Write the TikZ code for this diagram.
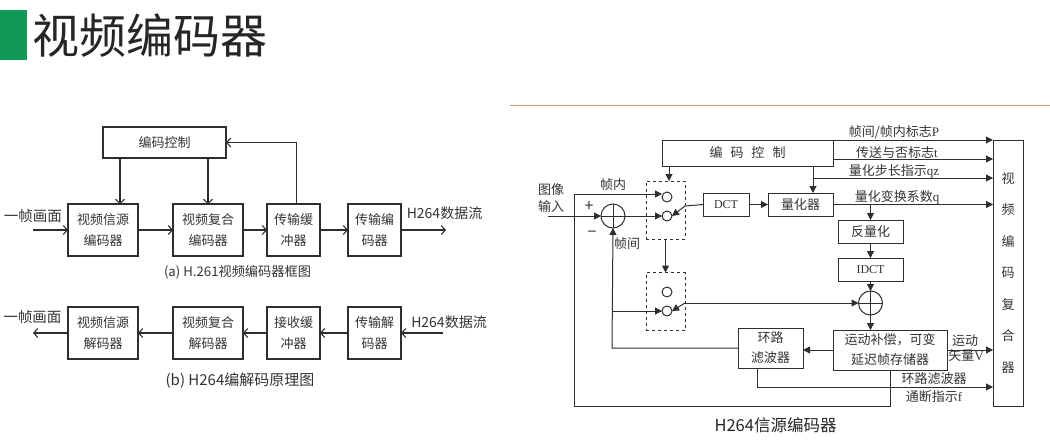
\documentclass[tikz,border=0pt]{standalone}
\usepackage{fontspec}
\setmainfont{Noto Sans CJK SC}
\newfontfamily\latf{Liberation Serif}
\usetikzlibrary{arrows.meta,positioning}
\definecolor{titlegreen}{HTML}{119A55}
\definecolor{inkline}{HTML}{2E2E2E}
\definecolor{rulebrown}{HTML}{CF9A70}
\newcommand{\fsz}[2]{\fontsize{#1}{#2}\selectfont}

\begin{document}
\begin{tikzpicture}[x=1pt,y=-1pt,
  node distance=35pt and 35pt,
  box/.style={draw=inkline,line width=1.1pt,inner sep=0pt,outer sep=0pt,align=center,text=black!80,font=\fsz{13}{21}},
  wbox/.style={box,minimum width=70pt,minimum height=52pt},
  nbox/.style={box,minimum width=53pt,minimum height=52pt},
  rbox/.style={box,line width=1pt},
  swbox/.style={draw=inkline,line width=1pt,dashed,minimum width=39pt,minimum height=58pt,inner sep=0pt,outer sep=0pt},
  port/.style={draw=inkline,line width=1pt,fill=white,circle,minimum size=10pt,inner sep=0pt,outer sep=0pt},
  sumnode/.style={draw=inkline,line width=1pt,circle,minimum size=24pt,inner sep=0pt,outer sep=0pt},
  lbl/.style={inner sep=0pt,text=black!80,font=\fsz{13}{17}},
  arr/.style={-{Straight Barb[length=4pt,width=9pt]},inkline,line width=1.1pt},
  tarr/.style={-{Stealth[length=7pt,width=7pt,inset=0pt]},inkline,line width=1pt},
  wire/.style={inkline,line width=1pt}]
\useasboundingbox (0,0) rectangle (1050,445);

% title
\fill[titlegreen] (0,10) rectangle (27,60);
\node[inner sep=0pt,text=black!85,font=\fsz{47}{47}] (title) at (150,36) {视频编码器};
\coordinate (ruleL) at (510,105);
\coordinate (ruleR) at (1050,105);
\draw[rulebrown,line width=1pt] (ruleL) -- (ruleR);

% encoder row
\node[box,minimum width=123pt,minimum height=31pt] (ctrlA) at (164.5,142.5) {编码控制};
\node[wbox] (enA) at (103,230) {视频信源\\编码器};
\node[wbox,right=of enA] (muxA) {视频复合\\编码器};
\node[nbox,right=24pt of muxA] (bufA) {传输缓\\冲器};
\node[nbox,right=28pt of bufA] (txA) {传输编\\码器};
\node[lbl,font=\fsz{14.5}{17}] (inA) at (33,216) {一帧画面};
\node[lbl,font=\fsz{14}{17}] (outA) at (444.5,213) {H264数据流};
\coordinate (inAs) at (33,230);
\coordinate (outAe) at (446,230);
\node[lbl,font=\fsz{13.2}{15}] (capA) at (237.5,272) {(a) H.261视频编码器框图};
\draw[arr] (inAs) -- (enA);
\foreach \a/\b in {enA/muxA,muxA/bufA,bufA/txA} {\draw[arr] (\a) -- (\b);}
\draw[arr] (txA) -- (outAe);
\draw[arr] ([xshift=17pt]enA.north |- ctrlA.south) -- ([xshift=17pt]enA.north);
\draw[arr] (muxA.north |- ctrlA.south) -- (muxA.north);
\draw[arr] ([xshift=3pt]bufA.north) |- (ctrlA.east);

% decoder row
\node[wbox] (deA) at (103,333) {视频信源\\解码器};
\node[wbox,right=of deA] (dmxA) {视频复合\\解码器};
\node[nbox,right=24pt of dmxA] (rbufA) {接收缓\\冲器};
\node[nbox,right=28pt of rbufA] (rxA) {传输解\\码器};
\node[lbl,font=\fsz{14.5}{17}] (outB) at (32.5,317) {一帧画面};
\node[lbl,font=\fsz{14}{17}] (inB) at (449,322) {H264数据流};
\coordinate (inBs) at (443,333);
\coordinate (outBe) at (33,333);
\node[lbl,font=\fsz{15}{17}] (capB) at (240,381) {(b) H264编解码原理图};
\draw[arr] (inBs) -- (rxA);
\foreach \a/\b in {rxA/rbufA,rbufA/dmxA,dmxA/deA} {\draw[arr] (\a) -- (\b);}
\draw[arr] (deA) -- (outBe);

% source coder
\node[rbox,minimum width=171pt,minimum height=26pt] (ctrl) at (747.5,153) {编\hspace{8pt}码\hspace{8pt}控\hspace{8pt}制};
\node[rbox,minimum width=30pt,minimum height=266pt,font=\fsz{13}{31.5}] (vmux) at (1008,273) {视\\频\\编\\码\\复\\合\\器};
\node[rbox,minimum width=46pt,minimum height=23pt,font=\fsz{12}{15}\latf] (dct) at (726,204.5) {DCT};
\node[rbox,minimum width=65pt,minimum height=23pt,right=19pt of dct] (quant) {量化器};
\node[rbox,minimum width=65pt,minimum height=23pt] (iquant) at (870.5,231.5) {反量化};
\node[rbox,minimum width=65pt,minimum height=23pt,font=\fsz{12}{15}\latf,below=15pt of iquant] (idct) {IDCT};
\node[sumnode] (add) at (870.5,303) {};
\node[rbox,minimum width=114pt,minimum height=40pt,font=\fsz{13}{20}] (mc) at (890,350) {运动补偿，可变\\延迟帧存储器};
\node[rbox,minimum width=65pt,minimum height=40pt,font=\fsz{13}{20}] (loopf) at (770.5,348) {环路\\滤波器};
\node[sumnode] (sub) at (613,216) {};
\node[swbox] (swA) at (665.5,210) {};
\node[swbox] (swB) at (665.5,301.5) {};
\node[port] (pa) at (667,197) {};
\node[port] (pb) at (667,216) {};
\node[port] (pc) at (667,292) {};
\node[port] (pd) at (667,311) {};
\foreach \s in {sub,add} {
  \draw[wire] (\s.north) -- (\s.south);
  \draw[wire] (\s.west) -- (\s.east);
}

% labels
\node[lbl] (lp) at (894,132) {帧间/帧内标志{\latf P}};
\node[lbl] (lt) at (897,153) {传送与否标志{\latf t}};
\node[lbl] (lqz) at (894,171) {量化步长指示{\latf qz}};
\node[lbl] (lq) at (897,197) {量化变换系数{\latf q}};
\node[lbl] (lm) at (965,341) {运动};
\node[lbl] (lv) at (966,356) {矢量{\latf V}};
\node[lbl] (lsw) at (934,379) {环路滤波器};
\node[lbl] (lg) at (934,397) {通断指示{\latf f}};
\node[lbl,align=center,font=\fsz{13}{17}] (limg) at (551,198) {图像\\输入};
\node[lbl] (lintra) at (613,185) {帧内};
\node[lbl] (linter) at (627,244) {帧间};
\node[lbl,font=\fsz{16}{16}] (lplus) at (589,207) {+};
\node[lbl,font=\fsz{16}{16}] (lminus) at (592,234) {−};
\node[inner sep=0pt,text=black!85,font=\fsz{16.5}{20}] (cap) at (775.5,425) {H264信源编码器};

% connectors
\coordinate (imgin) at (548,216);
\coordinate (tapq) at (813,178);
\coordinate (tapi) at (870.5,204.5);
\coordinate (back) at (574,406);
\coordinate (intra) at (574,194);
\coordinate (fb) at (612,348);
\coordinate (fbd) at (612,311);
\coordinate (rec) at (685,303);
\coordinate (dctk) at (685,206);
\coordinate (lfd) at (757,387);
\coordinate (swin) at (669,181);
\draw[tarr] (imgin) -- (sub);
\draw[tarr] (sub) -- (pb);
\draw[tarr] (ctrl.north east) -- (vmux.north west);
\draw[tarr] ([yshift=-6pt]ctrl.east) -- ([yshift=-6pt]ctrl.east -| vmux.west);
\draw[tarr] (tapq) -- (tapq -| vmux.west);
\draw[tarr] (ctrl.south -| tapq) -- (quant.north -| tapq);
\draw[tarr] (quant) -- (quant -| vmux.west);
\draw[tarr] (tapi) -- (iquant);
\draw[tarr] (ctrl.south -| swin) -- (swin);
\draw[tarr] (dct) -- (quant);
\draw[tarr] (dct.west) -- (dctk) -- (pb.east);
\draw[tarr] (iquant) -- (idct);
\draw[tarr] (idct) -- (add);
\draw[tarr] (add) -- (mc.north -| add);
\draw[tarr] (swA) -- (swB);
\draw[tarr] (rec) -- (add);
\draw[tarr] (rec) -- (pd.east);
\draw[tarr] (mc.west) -- (mc.west -| loopf.east);
\draw[tarr] (mc.east) -- (mc.east -| vmux.west);
\draw[tarr] (loopf.west) -- (fb) -- (sub.south);
\draw[tarr] (fbd) -- (pd);
\draw[tarr] (loopf.south -| lfd) -- (lfd) -- (lfd -| vmux.west);
\draw[tarr] (mc.south) -- (back -| mc.south) -- (back) -- (intra) -- (pa.west |- intra);
\end{tikzpicture}
\end{document}
